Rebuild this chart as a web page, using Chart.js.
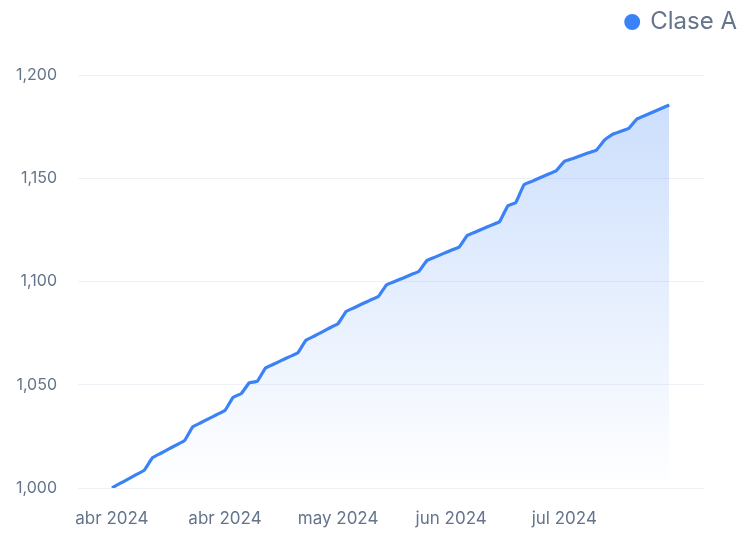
<!DOCTYPE html>
<html>
<head>
<meta charset="utf-8">
<script src="https://cdn.jsdelivr.net/npm/chart.js@4.4.2/dist/chart.umd.min.js"></script>
<style>
  html, body { margin: 0; padding: 0; background: #fff; overflow: hidden; }
  #wrap { position: relative; width: 747px; height: 534px; }
</style>
</head>
<body>
<div id="wrap"><canvas id="chart"></canvas></div>
<script>
const seriesName = 'Clase A';

// one value per trading day
const claseA = [
  1000.0, 1002.2, 1004.3, 1006.5, 1008.6, 1014.6, 1016.7, 1018.8, 1020.9, 1023.0,
  1029.6, 1031.6, 1033.6, 1035.6, 1037.6, 1043.9, 1045.7, 1050.9, 1051.7, 1058.1,
  1059.9, 1061.8, 1063.6, 1065.4, 1071.5, 1073.5, 1075.5, 1077.6, 1079.6, 1085.5,
  1087.3, 1089.2, 1091.0, 1092.8, 1098.4, 1100.0, 1101.6, 1103.3, 1104.9, 1110.2,
  1111.8, 1113.5, 1115.1, 1116.7, 1122.3, 1124.0, 1125.7, 1127.3, 1129.0, 1136.6,
  1138.2, 1146.8, 1148.5, 1150.2, 1151.9, 1153.6, 1158.1, 1159.5, 1160.9, 1162.3,
  1163.7, 1168.6, 1171.3, 1172.7, 1174.2, 1178.7, 1180.4, 1182.1, 1183.8, 1185.5
];

// x tick labels, one every 14 points
const tickLabels = ['abr 2024', 'abr 2024', 'may 2024', 'jun 2024', 'jul 2024'];
const tickEvery = 14;

const yTicks = { min: 1000, max: 1200, step: 50 };

const blue = '#3b82f6';
const textGray = '#64748b';
const gridGray = '#eef2f7';

const legendSpace = {
  id: 'legendSpace',
  beforeInit(chart) {
    const fit = chart.legend.fit;
    chart.legend.fit = function () {
      fit.call(this);
      this.height = 75;
    };
  }
};

const ctx = document.getElementById('chart');

new Chart(ctx, {
  type: 'line',
  data: {
    datasets: [{
      label: seriesName,
      data: claseA.map((v, i) => ({ x: i, y: v })),
      borderColor: blue,
      borderWidth: 3.2,
      tension: 0.1,
      borderJoinStyle: 'round',
      pointRadius: 0,
      fill: 'start',
      backgroundColor: (c) => {
        const area = c.chart.chartArea;
        if (!area) return 'rgba(59,130,246,0.15)';
        const g = c.chart.ctx.createLinearGradient(0, area.top, 0, area.bottom);
        g.addColorStop(0, 'rgba(59,130,246,0.28)');
        g.addColorStop(1, 'rgba(59,130,246,0)');
        return g;
      }
    }]
  },
  options: {
    responsive: true,
    maintainAspectRatio: false,
    animation: false,
    layout: { padding: 0 },
    scales: {
      x: {
        type: 'linear',
        min: -4.2,
        max: 73.3,
        grid: { display: false, drawTicks: false },
        border: { display: false },
        afterFit: (s) => { s.height = 46; },
        ticks: {
          stepSize: tickEvery,
          includeBounds: false,
          autoSkip: false,
          maxRotation: 0,
          padding: 21,
          color: textGray,
          font: { family: 'Inter', size: 17 },
          callback: (v) => tickLabels[v / tickEvery] ?? ''
        }
      },
      y: {
        min: yTicks.min,
        max: yTicks.max,
        grid: { color: gridGray, drawTicks: false },
        border: { display: false },
        afterFit: (s) => { s.width = 78; },
        ticks: {
          stepSize: yTicks.step,
          padding: 21,
          color: textGray,
          font: { family: 'Inter', size: 16 },
          callback: (v) => v.toLocaleString('en-US')
        }
      },
      spacer: {
        position: 'right',
        grid: { display: false },
        border: { display: false },
        ticks: { display: false },
        afterFit: (s) => { s.width = 43; }
      }
    },
    plugins: {
      tooltip: { enabled: false },
      legend: {
        position: 'top',
        align: 'end',
        labels: {
          usePointStyle: true,
          pointStyle: 'circle',
          boxWidth: 12,
          boxHeight: 9,
          color: textGray,
          font: { family: 'Inter', size: 24 },
          generateLabels: (chart) => Chart.defaults.plugins.legend.labels.generateLabels(chart)
            .map((l) => ({ ...l, fillStyle: blue, strokeStyle: blue }))
        }
      }
    }
  },
  plugins: [legendSpace]
});
</script>
</body>
</html>
